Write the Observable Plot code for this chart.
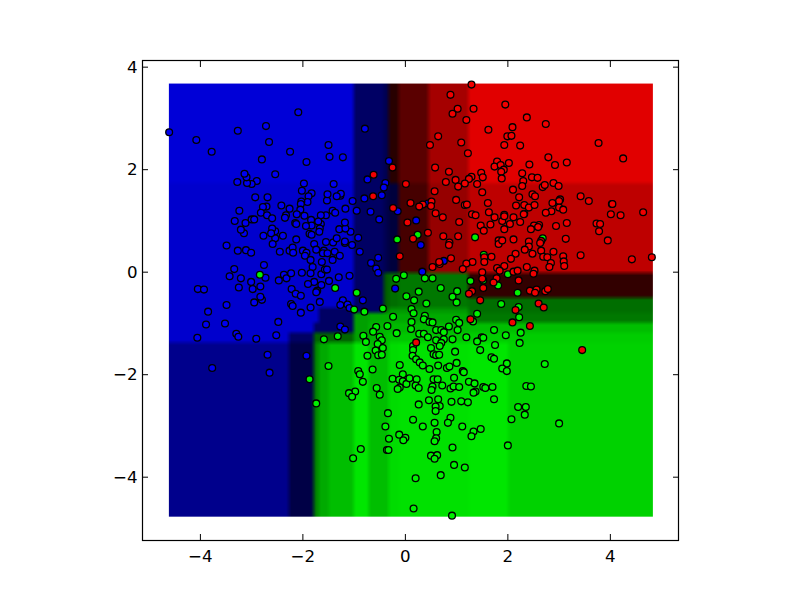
<!DOCTYPE html>
<html><head><meta charset="utf-8">
<script src="https://cdn.jsdelivr.net/npm/d3@7"></script>
<script src="https://cdn.jsdelivr.net/npm/@observablehq/plot@0.6"></script>
<style>html,body{margin:0;padding:0;background:#fff}svg{display:block}</style>
</head><body><div id="chart"></div>
<script>
const xTicks=[-4,-2,0,2,4];
const yTicks=[-4,-2,0,2,4];
const xDomain=[-5.13,5.33];
const yDomain=[-5.235,4.13];
// decision-surface patches: column edges, row edges (top to bottom), colour per patch
const xEdges=[-4.615,-2.30,-1.81,-1.72,-1.52,-1.01,-0.68,-0.43,-0.29,-0.14,0.43,1.21,2.05,4.83];
const yEdges=[3.68,1.69,0.03,-0.49,-0.65,-0.79,-0.94,-1.20,-1.39,-4.77];
const B="#0000d7",B2="#0000cd",B3="#00008c",N="#000064",N2="#000050",N3="#000046",Nd="#00003c";
const cells=[
[B,B,B,B,B,N,N,N2,"#280000","#5a0000","#a50000","#e10000","#e10000"],
[B2,B2,B2,B2,B2,N,N,N2,Nd,"#460000","#960000","#be0000","#be0000"],
[B2,B2,B2,B2,B2,N,N,"#005a00","#006e00","#007800","#007800","#320000","#320000"],
[B2,B2,B2,B2,B2,N,N,"#005a00","#006e00","#007800","#007800","#006e00","#006e00"],
[B2,B2,B2,N,N,N,N,"#006400","#009600","#009600","#009600","#006e00","#006e00"],
[B2,B2,B2,N,N,"#00a000","#00aa00","#00aa00","#00aa00","#00aa00","#00aa00","#007800","#007800"],
[B2,B2,N,N,N,"#00a000","#00b400","#00b900","#00b900","#00b900","#00b900","#00be00","#00be00"],
[B2,N,"#006400","#006400","#006400","#00a000","#00b400","#00be00","#00c800","#00c800","#00c800","#00cd00","#00cd00"],
[B3,N3,"#008200","#00aa00","#00be00","#00e600","#00be00","#00be00","#00dc00","#00e100","#00e100","#00e600","#00d200"]
];
const bluePts=[[-4.61,2.73],[-4.08,2.58],[-3.78,2.35],[-3.27,2.76],[-2.72,2.85],[-2.66,2.54],[-2.09,3.12],[-2.25,2.35],[-2.80,2.20],[-1.93,2.15],[-1.50,2.48],[-1.48,2.25],[-1.22,2.24],[-0.79,2.80],[-0.32,2.17],[-0.74,1.81],[-0.39,1.74],[-0.42,1.65],[-0.46,1.50],[-0.80,1.44],[-1.03,1.39],[-0.15,1.19],[-0.68,1.18],[-0.95,1.20],[-0.51,1.03],[-0.92,0.67],[-1.07,0.79],[-1.29,0.84],[-1.17,0.85],[-1.18,0.97],[-1.17,1.24],[-1.42,1.20],[-1.37,1.16],[-1.55,1.11],[-1.65,1.11],[-1.27,1.49],[-1.26,1.53],[-1.34,1.48],[-1.53,1.40],[-1.52,1.52],[-1.40,1.72],[-1.83,1.54],[-1.98,1.73],[-2.02,1.59],[-1.89,1.48],[-1.91,1.37],[-2.03,1.38],[-2.04,1.33],[-2.05,1.22],[-2.26,1.24],[-2.42,1.30],[-2.69,1.46],[-2.93,1.46],[-2.54,1.91],[-2.90,1.78],[-3.00,1.72],[-3.09,1.74],[-3.10,1.85],[-3.14,1.92],[-3.28,1.76],[-3.24,1.20],[-2.71,1.28],[-2.78,1.27],[-2.82,1.16],[-2.70,1.11],[-2.60,1.05],[-2.33,1.11],[-2.35,1.06],[-2.12,1.13],[-1.97,1.10],[-1.84,1.02],[-1.83,0.91],[-1.94,0.90],[-2.15,0.96],[-2.13,0.94],[-1.65,0.94],[-1.70,0.99],[-1.67,0.85],[-1.68,0.79],[-1.87,0.75],[-1.83,0.73],[-2.13,0.64],[-2.39,0.71],[-2.54,0.66],[-2.54,0.80],[-2.60,0.85],[-2.62,0.76],[-2.77,0.71],[-3.15,0.76],[-3.21,0.83],[-3.33,1.00],[-3.12,0.96],[-3.00,1.03],[-2.95,1.03],[-3.49,0.52],[-3.27,0.42],[-3.11,0.43],[-3.01,0.38],[-2.59,0.55],[-2.45,0.40],[-2.26,0.42],[-2.20,0.48],[-2.19,0.38],[-2.00,0.42],[-1.93,0.38],[-1.96,0.32],[-1.78,0.55],[-1.74,0.44],[-1.85,0.24],[-1.59,0.42],[-1.61,0.37],[-1.52,0.37],[-1.55,0.59],[-1.41,0.58],[-1.34,0.66],[-1.18,0.57],[-1.18,0.60],[-1.04,0.53],[-0.89,0.40],[-1.38,0.40],[-1.28,0.32],[-1.42,0.24],[-1.63,0.20],[-1.81,0.10],[-0.53,0.28],[-0.67,0.18],[-0.57,0.07],[-0.53,-0.01],[-0.20,-0.32],[-2.76,0.14],[-3.34,0.06],[-3.43,-0.08],[-3.21,-0.12],[-3.01,-0.19],[-2.73,-0.11],[-2.47,-0.16],[-2.37,-0.05],[-2.32,-0.12],[-2.23,-0.02],[-2.02,-0.01],[-1.85,-0.02],[-1.64,-0.04],[-1.57,0.05],[-1.53,0.05],[-1.30,-0.10],[-1.09,-0.07],[-1.49,-0.17],[-1.64,-0.25],[-1.78,-0.19],[-1.90,-0.23],[-2.83,-0.28],[-3.25,-0.30],[-4.05,-0.33],[-3.93,-0.34],[-2.98,-0.33],[-2.22,-0.33],[-1.72,-0.36],[-2.80,-0.54],[-2.83,-0.48],[-2.95,-0.59],[-3.49,-0.64],[-3.85,-0.77],[-3.89,-1.02],[-3.52,-1.00],[-4.06,-1.28],[-3.30,-1.20],[-3.26,-1.26],[-2.91,-1.30],[-2.52,-1.23],[-2.48,-0.97],[-2.69,-1.61],[-3.77,-1.87],[-2.65,-1.96],[-1.93,-1.63],[-2.23,-0.62],[-2.20,-0.66],[-2.04,-0.79],[-1.85,-0.69],[-1.67,-0.58],[-2.14,-0.42],[-2.04,-0.46],[-1.74,-0.39],[-1.22,-0.55],[-1.27,-0.64],[-1.13,-0.63],[-1.09,-0.70],[-0.83,-0.55],[-1.27,-1.06],[-1.18,-1.12],[0.44,1.34],[0.21,1.01],[0.30,0.53],[0.75,0.22],[0.33,0.01]];
const redPts=[[1.29,3.66],[0.88,3.46],[1.02,3.19],[0.92,3.09],[1.33,3.19],[1.19,2.97],[1.95,3.27],[2.37,3.02],[2.74,2.89],[1.62,2.78],[2.09,2.83],[1.99,2.65],[2.07,2.66],[0.64,2.65],[0.48,2.48],[1.09,2.53],[1.93,2.48],[2.24,2.47],[1.22,2.32],[3.77,2.52],[4.25,2.22],[2.79,2.24],[3.15,2.14],[2.92,2.09],[2.42,2.10],[2.02,2.13],[1.79,2.16],[1.74,2.06],[1.86,2.09],[1.92,2.00],[1.87,1.96],[1.88,1.83],[1.48,1.94],[1.51,1.85],[1.29,1.86],[1.24,1.82],[1.16,1.73],[0.98,1.80],[1.03,1.67],[0.79,1.76],[0.85,1.96],[0.58,2.04],[0.01,1.72],[0.57,1.58],[1.40,1.72],[1.50,1.56],[2.28,1.93],[2.30,1.78],[2.28,1.68],[2.10,1.61],[2.47,1.85],[2.58,1.84],[2.68,1.66],[2.72,1.70],[2.89,1.74],[2.99,1.68],[2.48,1.52],[2.53,1.48],[2.22,1.46],[3.42,1.48],[3.58,1.39],[4.03,1.33],[4.04,1.33],[4.64,1.17],[4.20,1.11],[4.01,1.13],[3.02,1.42],[3.00,1.39],[2.87,1.35],[3.00,1.26],[3.08,1.22],[2.85,1.19],[2.74,1.16],[3.15,0.96],[2.94,0.90],[2.61,0.92],[2.51,0.91],[2.59,0.88],[2.45,0.84],[3.73,0.95],[3.80,0.94],[3.78,0.80],[3.95,0.62],[3.13,0.65],[2.16,1.30],[2.32,1.31],[2.41,1.26],[2.52,1.31],[2.32,1.14],[2.31,1.13],[2.11,1.07],[2.24,0.98],[2.04,0.94],[1.89,1.00],[1.93,1.12],[1.93,1.09],[1.93,0.84],[1.74,1.07],[1.63,1.17],[1.61,1.35],[1.66,0.93],[1.47,0.91],[1.53,0.81],[1.30,1.13],[1.37,1.11],[1.05,0.98],[0.99,1.41],[1.16,1.31],[1.20,1.32],[0.73,1.07],[0.59,1.15],[0.51,1.38],[0.50,1.29],[0.34,1.32],[0.27,1.28],[0.10,1.35],[0.04,0.97],[0.44,0.77],[0.74,0.70],[1.03,0.70],[0.15,0.65],[0.86,0.58],[0.85,0.53],[1.82,0.62],[1.82,0.55],[1.89,0.62],[2.11,0.64],[2.41,0.60],[2.41,0.50],[2.65,0.61],[2.63,0.57],[2.33,0.44],[2.65,0.42],[2.89,0.40],[2.15,0.36],[2.06,0.26],[2.48,0.36],[2.69,0.30],[2.77,0.29],[3.08,0.31],[3.09,0.21],[3.10,0.12],[2.84,0.18],[2.81,0.10],[3.42,0.33],[4.42,0.25],[4.81,0.29],[1.68,0.30],[1.54,0.29],[1.54,0.20],[1.31,0.20],[1.19,0.17],[1.12,0.06],[0.89,0.27],[0.67,0.16],[0.66,0.20],[0.53,0.10],[-0.11,0.31],[1.93,0.12],[1.79,0.08],[1.84,0.03],[2.11,0.01],[2.19,0.03],[2.37,0.10],[2.52,0.03],[2.50,-0.03],[1.50,0.00],[1.50,-0.13],[1.78,-0.12],[2.21,-0.16],[1.72,-0.20],[1.52,-0.31],[1.30,-0.37],[2.43,-0.36],[2.56,-0.34],[2.73,-0.37],[2.78,-0.33],[1.24,-0.42],[1.46,-0.55],[2.53,-0.40],[2.60,-0.61],[2.70,-0.69],[2.15,-0.74],[2.09,-0.98],[2.43,-1.05],[1.27,-0.92],[3.45,-1.52],[0.21,-1.37],[-0.62,1.90],[-0.25,2.04],[-0.63,1.48],[-0.24,1.25]];
const greenPts=[[-2.84,-0.05],[-1.37,-0.31],[-0.16,0.64],[-0.18,-0.13],[-0.03,-0.06],[0.24,0.73],[1.36,0.68],[2.68,0.66],[1.53,0.34],[0.38,-0.12],[0.53,-0.12],[1.27,-0.17],[1.52,-0.16],[2.00,-0.04],[1.81,-0.26],[0.69,-0.31],[-0.95,-0.40],[-1.00,-0.73],[-0.80,-0.77],[-0.44,-0.71],[0.02,-0.47],[-0.24,-0.87],[-0.35,-1.05],[-0.57,-1.07],[-0.63,-1.16],[-0.17,-1.19],[-0.82,-1.24],[-0.50,-1.26],[-0.46,-1.33],[-0.54,-1.40],[-0.77,-1.36],[-0.44,-1.48],[-0.58,-1.53],[-0.53,-1.62],[-0.46,-1.61],[-0.74,-1.63],[-1.59,-1.31],[-1.32,-1.25],[-1.50,-1.83],[-1.87,-2.09],[-1.74,-2.56],[-0.92,-1.93],[-0.89,-1.99],[-0.83,-2.14],[-0.64,-1.90],[-0.11,-1.81],[-0.05,-1.99],[-0.25,-2.08],[-0.12,-2.10],[-0.05,-2.13],[0.02,-2.18],[0.08,-2.07],[-0.11,-2.25],[-0.15,-2.28],[-0.56,-2.26],[-0.50,-2.39],[-0.98,-2.33],[-1.10,-2.36],[-1.04,-2.43],[-0.34,-2.75],[-0.39,-3.01],[-0.12,-3.17],[0.00,-3.23],[-0.04,-3.28],[-0.32,-3.25],[-0.87,-3.45],[-1.02,-3.63],[-0.36,-3.47],[-0.33,-3.47],[0.26,-0.38],[0.17,-0.55],[0.41,-0.61],[1.01,-0.37],[0.92,-0.48],[1.00,-0.59],[1.87,-0.62],[2.19,-0.40],[2.21,-0.68],[2.22,-0.88],[1.40,-0.81],[1.32,-0.96],[0.12,-0.72],[0.16,-0.80],[0.12,-0.97],[0.11,-1.11],[0.38,-0.85],[0.36,-0.92],[0.47,-0.97],[0.53,-0.98],[0.99,-0.93],[1.05,-0.99],[0.85,-1.06],[1.02,-1.13],[0.60,-1.13],[0.70,-1.13],[0.75,-1.17],[0.27,-1.20],[0.36,-1.20],[0.44,-1.27],[0.60,-1.33],[0.75,-1.31],[0.70,-1.38],[0.67,-1.44],[0.92,-1.31],[1.19,-1.27],[1.49,-1.27],[1.52,-1.28],[1.40,-1.35],[1.73,-1.13],[1.96,-1.23],[2.25,-1.18],[2.23,-1.38],[1.75,-1.42],[1.46,-1.52],[0.97,-1.55],[0.50,-1.48],[0.15,-1.44],[0.15,-1.52],[0.14,-1.63],[0.21,-1.70],[0.28,-1.76],[0.34,-1.82],[0.47,-1.89],[0.55,-1.60],[0.60,-1.62],[0.66,-1.61],[0.64,-1.82],[0.81,-1.87],[0.86,-1.84],[1.00,-1.77],[1.12,-1.93],[1.14,-1.95],[1.68,-1.66],[1.73,-1.69],[1.98,-1.78],[1.89,-1.88],[1.98,-1.93],[2.72,-1.79],[0.95,-2.06],[1.24,-2.14],[1.35,-2.17],[0.55,-2.09],[0.63,-2.09],[0.22,-2.09],[0.20,-2.21],[0.26,-2.26],[0.53,-2.23],[0.51,-2.30],[0.72,-2.21],[0.88,-2.27],[0.94,-2.23],[1.05,-2.24],[1.52,-2.24],[1.56,-2.26],[1.70,-2.24],[1.37,-2.33],[1.33,-2.35],[2.36,-2.22],[2.45,-2.23],[1.73,-2.48],[0.90,-2.53],[1.09,-2.52],[1.22,-2.54],[0.64,-2.48],[0.67,-2.61],[0.59,-2.62],[0.59,-2.71],[0.46,-2.50],[0.26,-2.58],[2.20,-2.63],[2.35,-2.63],[2.33,-2.78],[2.07,-2.87],[0.88,-2.84],[0.83,-2.94],[0.57,-2.94],[0.15,-2.88],[0.34,-3.01],[1.11,-3.01],[1.47,-3.06],[1.33,-3.11],[1.29,-3.20],[3.00,-2.95],[0.61,-3.12],[0.60,-3.24],[0.57,-3.30],[2.00,-3.38],[0.92,-3.42],[0.50,-3.58],[0.62,-3.57],[0.57,-3.64],[0.95,-3.76],[1.16,-3.81],[0.69,-3.96],[0.20,-4.02],[0.16,-4.61],[0.91,-4.75]];

function cellColor(x,y){
  let c=d3.bisectRight(xEdges,x)-1;
  let r=yEdges.findIndex((e,i)=>i<yEdges.length-1&&y<=e&&y>yEdges[i+1]);
  c=Math.max(0,Math.min(cells[0].length-1,c));
  if(r<0) r=y>yEdges[0]?0:cells.length-1;
  return cells[r][c];
}
const minus=d=>String(d).replace("-","\u2212");
const dotOpts={x:d=>d[0],y:d=>d[1],r:3.4,stroke:"#000",strokeWidth:1.3};
const chart=Plot.plot({
  width:800,height:600,
  marginLeft:142,marginRight:122,marginTop:60,marginBottom:60,
  style:{fontFamily:"'DejaVu Sans'",fontSize:"16.67px",color:"#000",background:"#fff"},
  x:{domain:xDomain,label:null},
  y:{domain:yDomain,label:null},
  color:{type:"identity"},
  marks:[
    Plot.raster({fill:cellColor,x1:xEdges[0],x2:xEdges[xEdges.length-1],y1:yEdges[0],y2:yEdges[yEdges.length-1],pixelSize:5}),
    Plot.dot(bluePts,{...dotOpts,fill:"#0000f0"}),
    Plot.dot(greenPts,{...dotOpts,fill:"#00f000"}),
    Plot.dot(redPts,{...dotOpts,fill:"#f00000"}),
    Plot.frame({stroke:"#000",strokeWidth:1.2}),
    Plot.axisX({ticks:xTicks,anchor:"bottom",tickSize:-6,tickPadding:16,tickFormat:minus,label:null,fontSize:16.67}),
    Plot.axisX({ticks:xTicks,anchor:"top",tickSize:-6,tickFormat:()=>"",label:null}),
    Plot.axisY({ticks:yTicks,anchor:"left",tickSize:-6,tickPadding:11,tickFormat:minus,label:null,fontSize:16.67}),
    Plot.axisY({ticks:yTicks,anchor:"right",tickSize:-6,tickFormat:()=>"",label:null})
  ]
});
document.getElementById("chart").append(chart);
</script></body></html>
